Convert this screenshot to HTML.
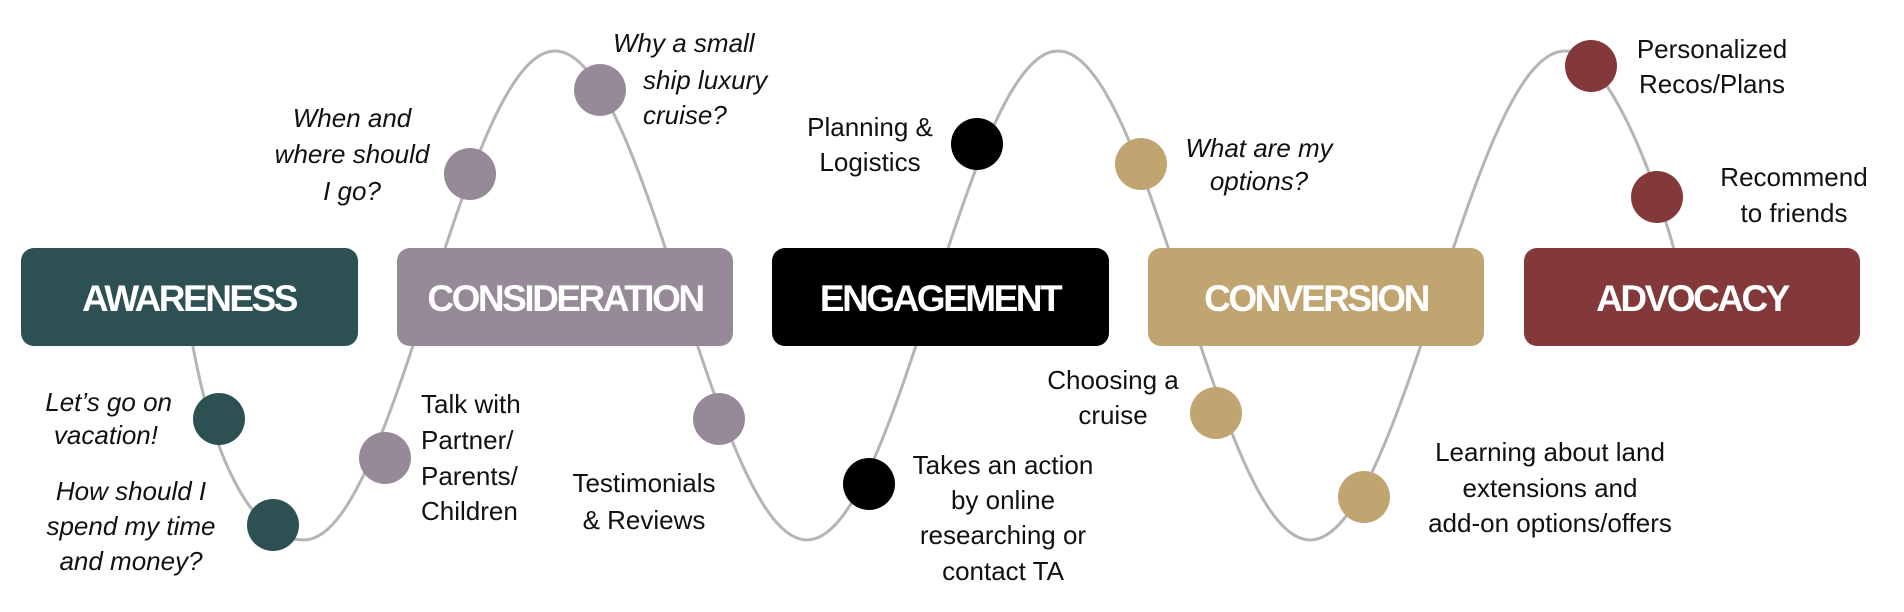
<!DOCTYPE html>
<html><head><meta charset="utf-8"><style>
html,body{margin:0;padding:0;background:#fff;}
svg{display:block;}
text{font-family:"Liberation Sans",Arial,sans-serif;font-size:26px;fill:#111;}
.i{font-style:italic;}
.b{font-weight:bold;font-size:37px;fill:#fff;letter-spacing:-2.5px;}
</style></head><body>
<svg width="1904" height="612" viewBox="0 0 1904 612" xmlns="http://www.w3.org/2000/svg">
<path d="M190,330 C212,460 252,540 304,540 C395.4,540 463.6,51 555,51 C646.8,51 715.2,540 807,540 C898.4,540 966.6,51 1058,51 C1149.8,51 1218.2,540 1310,540 C1402.9,540 1472.1,51 1565,51 C1600,51 1650,150 1682,280" fill="none" stroke="#b5b5b5" stroke-width="3"/>
<rect x="21" y="248" width="337" height="98" rx="13" fill="#2d5053"/>
<rect x="397" y="248" width="336" height="98" rx="13" fill="#968a99"/>
<rect x="772" y="248" width="337" height="98" rx="13" fill="#000"/>
<rect x="1148" y="248" width="336" height="98" rx="13" fill="#c1a571"/>
<rect x="1524" y="248" width="336" height="98" rx="13" fill="#83393a"/>
<text class="b" x="189" y="311" text-anchor="middle">AWARENESS</text>
<text class="b" x="565" y="311" text-anchor="middle">CONSIDERATION</text>
<text class="b" x="940" y="311" text-anchor="middle">ENGAGEMENT</text>
<text class="b" x="1316" y="311" text-anchor="middle">CONVERSION</text>
<text class="b" x="1692" y="311" text-anchor="middle">ADVOCACY</text>
<g>
<circle cx="219" cy="419" r="26" fill="#2d5053"/>
<circle cx="273" cy="525" r="26" fill="#2d5053"/>
<circle cx="385" cy="458" r="26" fill="#968a99"/>
<circle cx="470" cy="174" r="26" fill="#968a99"/>
<circle cx="600" cy="90" r="26" fill="#968a99"/>
<circle cx="719" cy="419" r="26" fill="#968a99"/>
<circle cx="869" cy="484" r="26" fill="#000"/>
<circle cx="977" cy="144" r="26" fill="#000"/>
<circle cx="1141" cy="164" r="26" fill="#c1a571"/>
<circle cx="1216" cy="413" r="26" fill="#c1a571"/>
<circle cx="1364" cy="497" r="26" fill="#c1a571"/>
<circle cx="1591" cy="66" r="26" fill="#83393a"/>
<circle cx="1657" cy="197" r="26" fill="#83393a"/>
</g>
<g class="i">
<text class="i" x="172" y="411" text-anchor="end">Let’s go on</text>
<text class="i" x="158" y="444" text-anchor="end">vacation!</text>
<text class="i" x="131" y="500" text-anchor="middle">How should I</text>
<text class="i" x="131" y="535" text-anchor="middle">spend my time</text>
<text class="i" x="131" y="570" text-anchor="middle">and money?</text>
<text class="i" x="352" y="127" text-anchor="middle">When and</text>
<text class="i" x="352" y="163" text-anchor="middle">where should</text>
<text class="i" x="352" y="200" text-anchor="middle">I go?</text>
<text class="i" x="613" y="52">Why a small</text>
<text class="i" x="643" y="89">ship luxury</text>
<text class="i" x="643" y="124">cruise?</text>
<text class="i" x="1259" y="157" text-anchor="middle">What are my</text>
<text class="i" x="1259" y="190" text-anchor="middle">options?</text>
</g>
<text x="421" y="413">Talk  with</text>
<text x="421" y="449">Partner/</text>
<text x="421" y="485">Parents/</text>
<text x="421" y="520">Children</text>
<text x="644" y="492" text-anchor="middle">Testimonials</text>
<text x="644" y="529" text-anchor="middle">&amp; Reviews</text>
<text x="870" y="136" text-anchor="middle">Planning &amp;</text>
<text x="870" y="171" text-anchor="middle">Logistics</text>
<text x="1003" y="474" text-anchor="middle">Takes an action</text>
<text x="1003" y="509" text-anchor="middle">by online</text>
<text x="1003" y="544" text-anchor="middle">researching or</text>
<text x="1003" y="580" text-anchor="middle">contact TA</text>
<text x="1113" y="389" text-anchor="middle">Choosing a</text>
<text x="1113" y="424" text-anchor="middle">cruise</text>
<text x="1550" y="461" text-anchor="middle">Learning about land</text>
<text x="1550" y="497" text-anchor="middle">extensions and</text>
<text x="1550" y="532" text-anchor="middle">add-on options/offers</text>
<text x="1712" y="58" text-anchor="middle">Personalized</text>
<text x="1712" y="93" text-anchor="middle">Recos/Plans</text>
<text x="1794" y="186" text-anchor="middle">Recommend</text>
<text x="1794" y="222" text-anchor="middle">to friends</text>
</svg>
</body></html>
